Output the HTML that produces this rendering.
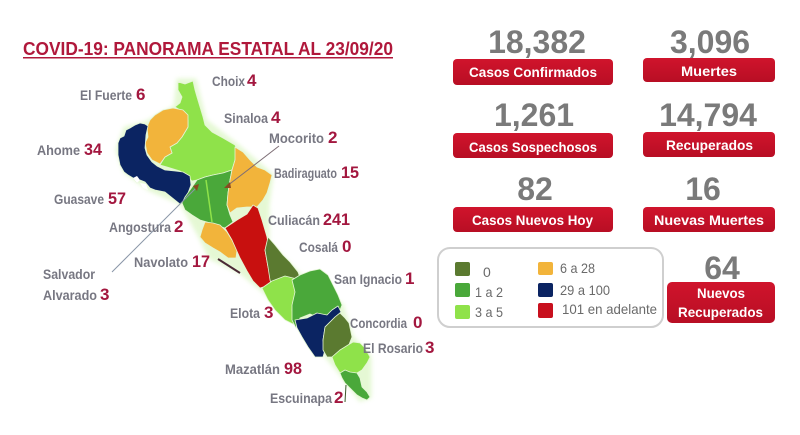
<!DOCTYPE html>
<html><head><meta charset="utf-8"><style>
html,body{margin:0;padding:0;background:#fff;}
svg{display:block;}
</style></head><body>
<svg width="800" height="435" viewBox="0 0 800 435" xmlns="http://www.w3.org/2000/svg" font-family="'Liberation Sans', sans-serif">
<defs>
<linearGradient id="rg" x1="0" y1="0" x2="0" y2="1"><stop offset="0" stop-color="#d0142c"/><stop offset="1" stop-color="#b80e24"/></linearGradient>
<filter id="glow" x="-10%" y="-10%" width="120%" height="120%"><feGaussianBlur stdDeviation="2"/></filter>
</defs>
<rect width="800" height="435" fill="#fff"/>
<!-- Title -->
<text x="23" y="55" font-size="18.5" font-weight="bold" fill="#b0183b" textLength="370" lengthAdjust="spacingAndGlyphs">COVID-19: PANORAMA ESTATAL AL 23/09/20</text>
<rect x="23" y="57" width="370" height="1.5" fill="#b0183b"/>

<!-- Map glow -->
<g filter="url(#glow)" fill="#d4f4b8" stroke="#d4f4b8" stroke-width="3" opacity="0.6">
<polygon points="178,80 195,80 205,120 237,145 272,175 268,205 268,243 300,275 342,305 352,337 370,357 370,397 360,400 340,373 300,325 262,290 240,272 210,258 200,237 185,210 180,203 150,190 125,172 117,150 125,128 145,123 175,107"/>
</g>
<g stroke="#e4f5d4" stroke-width="0.8" stroke-linejoin="round">
<polygon fill="#8fe24a" points="178,82 185,84 193,81 195,90 197,97 200,107 203,117 205,125 212,132 223,138 235,145 238,152 235,160 232,170 223,173 213,175 205,177 197,180 192,181 188,177 180,171 167,167 160,165 163,160 165,157 172,153 170,147 177,143 182,137 188,127 188,120 183,117 180,110 175,107 180,103 182,97 178,90"/>
<polygon fill="#f2b43b" points="155,115 163,110 173,108 183,110 188,115 188,120 188,127 182,137 177,143 170,147 172,153 165,157 160,164 152,160 147,153 145,143 148,137 147,127 150,120"/>
<polygon fill="#0b2462" points="118,143 120,138 124,136 126,130 130,128 135,125 140,123 145,124 148,126 146,135 145,148 147,155 152,162 157,166 165,170 175,171 183,172 190,176 191,185 188,193 185,200 180,204 175,200 170,196 165,192 155,190 150,188 145,182 140,180 137,183 133,178 128,175 124,172 120,165 118,155"/>
<polygon fill="#4aa83a" points="190,190 197,180 205,177 213,175 223,173 232,170 230,180 228,193 227,205 230,215 233,222 225,228 215,225 207,222 200,220 192,215 185,210 182,203 185,197"/>
<line x1="206" y1="180" x2="212" y2="222" stroke="#8fe24a" stroke-width="1.5"/>
<polygon fill="#f2b43b" points="235,147 243,152 250,160 257,167 265,170 272,175 270,183 267,193 263,200 257,207 247,207 237,208 230,213 227,205 228,193 230,180 232,170 235,160"/>
<polygon fill="#f2b43b" points="205,222 213,223 220,225 227,232 232,240 237,250 236,258 228,258 220,252 213,248 205,243 200,237 202,230"/>
<polygon fill="#c8100f" points="225,228 237,220 247,214 253,205 258,208 262,220 267,237 268,243 265,250 268,267 272,277 270,285 260,288 253,281 247,271 240,258 232,240"/>
<polygon fill="#5b7a30" points="268,237 275,245 283,255 290,262 298,272 301,280 290,283 280,285 272,287 270,280 268,267 265,250"/>
<polygon fill="#8fe24a" points="262,288 272,281 285,276 297,279 296,295 292,310 295,325 285,320 275,310 268,300"/>
<polygon fill="#4aa83a" points="292,280 300,275 310,271 320,269 328,275 333,285 338,295 342,305 340,310 330,315 320,318 310,314 300,318 296,328 292,320 292,305 295,292"/>
<polygon fill="#0b2462" points="295,320 307,318 317,313 327,315 332,310 338,306 341,312 335,317 330,322 325,327 323,340 325,350 323,357 315,357 308,347 302,337 297,328"/>
<polygon fill="#5b7a30" points="325,327 330,322 335,317 340,313 345,318 349,323 352,337 348,347 340,350 332,357 327,357 323,350 323,340"/>
<polygon fill="#8fe24a" points="332,357 340,350 348,345 353,342 360,343 365,348 370,357 367,363 362,370 357,373 350,373 345,378 340,373 335,365"/>
<polygon fill="#4aa83a" points="340,373 345,370 350,372 357,373 360,378 362,387 367,392 370,397 367,400 362,398 357,395 352,390 345,383 342,378"/>
</g>
<g fill="#fff">
<polygon points="133,178 137,176 140,180 137,183"/>
<polygon points="140,183 146,184 148,190 143,188"/>
</g>
<line x1="279" y1="146" x2="227" y2="186" stroke="#7d6d75" stroke-width="1"/>
<polygon points="224,188 230,182 231,188" fill="#8a4a20"/>
<line x1="197" y1="187" x2="112" y2="272" stroke="#8a96a8" stroke-width="1"/>
<polygon points="199,184 193,186 197,191" fill="#8a4a20"/>
<line x1="218" y1="259" x2="240" y2="273" stroke="#4a2a35" stroke-width="2"/>
<line x1="346" y1="385" x2="345" y2="402" stroke="#3a5a2a" stroke-width="1"/>

<g font-weight="bold" fill="#777782" font-size="14">
<text x="212" y="86" textLength="33" lengthAdjust="spacingAndGlyphs">Choix</text>
<text x="80" y="100" textLength="52" lengthAdjust="spacingAndGlyphs">El Fuerte</text>
<text x="224" y="123" textLength="44" lengthAdjust="spacingAndGlyphs">Sinaloa</text>
<text x="269" y="143" textLength="55" lengthAdjust="spacingAndGlyphs">Mocorito</text>
<text x="37" y="155" textLength="43" lengthAdjust="spacingAndGlyphs">Ahome</text>
<text x="274" y="178" textLength="63" lengthAdjust="spacingAndGlyphs">Badiraguato</text>
<text x="54" y="204" textLength="50" lengthAdjust="spacingAndGlyphs">Guasave</text>
<text x="268" y="225" textLength="52" lengthAdjust="spacingAndGlyphs">Culiacán</text>
<text x="109" y="232" textLength="62" lengthAdjust="spacingAndGlyphs">Angostura</text>
<text x="299" y="252" textLength="39" lengthAdjust="spacingAndGlyphs">Cosalá</text>
<text x="134" y="267" textLength="54" lengthAdjust="spacingAndGlyphs">Navolato</text>
<text x="43" y="279" textLength="52" lengthAdjust="spacingAndGlyphs">Salvador</text>
<text x="43" y="300" textLength="54" lengthAdjust="spacingAndGlyphs">Alvarado</text>
<text x="334" y="284" textLength="68" lengthAdjust="spacingAndGlyphs">San Ignacio</text>
<text x="230" y="318" textLength="30" lengthAdjust="spacingAndGlyphs">Elota</text>
<text x="350" y="328" textLength="57" lengthAdjust="spacingAndGlyphs">Concordia</text>
<text x="363" y="353" textLength="60" lengthAdjust="spacingAndGlyphs">El Rosario</text>
<text x="225" y="374" textLength="55" lengthAdjust="spacingAndGlyphs">Mazatlán</text>
<text x="270" y="403" textLength="62" lengthAdjust="spacingAndGlyphs">Escuinapa</text>
</g>
<g font-weight="bold" fill="#a3173f" font-size="17">
<text x="247" y="86">4</text>
<text x="136" y="100">6</text>
<text x="271" y="123">4</text>
<text x="328" y="143">2</text>
<text x="84" y="155" textLength="18" lengthAdjust="spacingAndGlyphs">34</text>
<text x="341" y="178" textLength="18" lengthAdjust="spacingAndGlyphs">15</text>
<text x="108" y="204" textLength="18" lengthAdjust="spacingAndGlyphs">57</text>
<text x="323" y="225" textLength="27" lengthAdjust="spacingAndGlyphs">241</text>
<text x="174" y="232">2</text>
<text x="342" y="252">0</text>
<text x="192" y="267" textLength="18" lengthAdjust="spacingAndGlyphs">17</text>
<text x="100" y="300">3</text>
<text x="405" y="284">1</text>
<text x="264" y="318">3</text>
<text x="413" y="328">0</text>
<text x="425" y="353">3</text>
<text x="284" y="374" textLength="18" lengthAdjust="spacingAndGlyphs">98</text>
<text x="334" y="403">2</text>
</g>

<g font-weight="bold" fill="#7a7a7a" font-size="32" text-anchor="middle">
<text x="537" y="53">18,382</text>
<text x="710" y="53">3,096</text>
<text x="534" y="126">1,261</text>
<text x="708" y="126">14,794</text>
<text x="535" y="200">82</text>
<text x="703" y="200">16</text>
<text x="722" y="279">64</text>
</g>
<g fill="url(#rg)">
<rect x="453" y="59" width="160" height="26" rx="4"/>
<rect x="643" y="58" width="132" height="24" rx="4"/>
<rect x="453" y="133" width="160" height="25" rx="4"/>
<rect x="643" y="132" width="132" height="25" rx="4"/>
<rect x="453" y="207" width="160" height="25" rx="4"/>
<rect x="643" y="207" width="132" height="25" rx="4"/>
<rect x="667" y="282" width="108" height="41" rx="5"/>
</g>
<g font-weight="bold" fill="#fff" font-size="14">
<text x="469" y="77" textLength="128" lengthAdjust="spacingAndGlyphs">Casos Confirmados</text>
<text x="681" y="76" textLength="56" lengthAdjust="spacingAndGlyphs">Muertes</text>
<text x="469" y="152" textLength="128" lengthAdjust="spacingAndGlyphs">Casos Sospechosos</text>
<text x="666" y="150" textLength="87" lengthAdjust="spacingAndGlyphs">Recuperados</text>
<text x="472" y="225" textLength="121" lengthAdjust="spacingAndGlyphs">Casos Nuevos Hoy</text>
<text x="654" y="225" textLength="110" lengthAdjust="spacingAndGlyphs">Nuevas Muertes</text>
<text x="697" y="298" textLength="48" lengthAdjust="spacingAndGlyphs">Nuevos</text>
<text x="678" y="317" textLength="85" lengthAdjust="spacingAndGlyphs">Recuperados</text>
</g>

<rect x="438" y="248" width="225" height="79" rx="12" fill="#fff" stroke="#cfcfcf" stroke-width="2"/>
<rect x="455" y="262" width="15" height="14" rx="2" fill="#5b7a30"/>
<rect x="455" y="283" width="15" height="14" rx="2" fill="#4aa83a"/>
<rect x="455" y="305" width="15" height="14" rx="2" fill="#8fe24a"/>
<rect x="538" y="262" width="15" height="13" rx="2" fill="#f2b43b"/>
<rect x="538" y="283" width="15" height="14" rx="2" fill="#0b2462"/>
<rect x="538" y="303" width="15" height="15" rx="2" fill="#c8101e"/>
<g fill="#6a6a6a" font-size="14">
<text x="483" y="277">0</text>
<text x="475" y="297" textLength="28" lengthAdjust="spacingAndGlyphs">1 a 2</text>
<text x="475" y="317" textLength="28" lengthAdjust="spacingAndGlyphs">3 a 5</text>
<text x="560" y="273" textLength="35" lengthAdjust="spacingAndGlyphs">6 a 28</text>
<text x="560" y="295" textLength="50" lengthAdjust="spacingAndGlyphs">29 a 100</text>
<text x="562" y="314" textLength="95" lengthAdjust="spacingAndGlyphs">101 en adelante</text>
</g>
</svg>
</body></html>
